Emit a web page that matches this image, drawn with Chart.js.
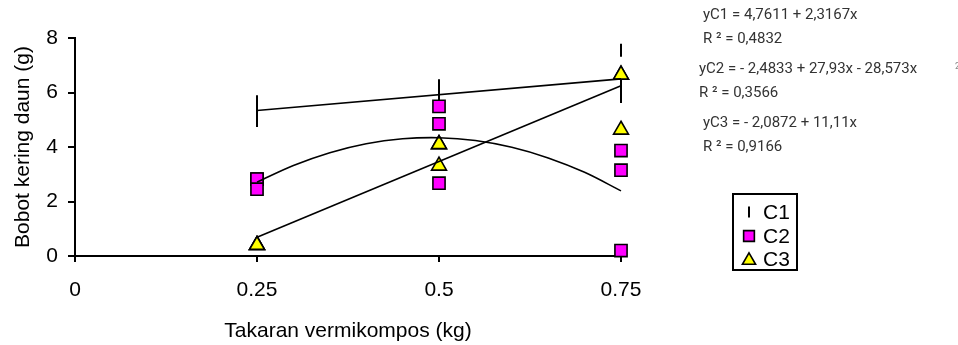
<!DOCTYPE html>
<html><head><meta charset="utf-8">
<script src="https://cdn.jsdelivr.net/npm/chart.js@4/dist/chart.umd.min.js"></script>
<style>html,body{margin:0;padding:0;background:#fff;overflow:hidden}canvas{display:block}</style>
</head><body>
<canvas id="c" width="958" height="345"></canvas>
<script>
// ---- data ----
const xTicks = [0, 0.25, 0.5, 0.75];
const yTicks = [0, 2, 4, 6, 8];
const seriesNames = ['C1', 'C2', 'C3'];
const doseX = [0.25, 0.25, 0.25, 0.5, 0.5, 0.5, 0.75, 0.75, 0.75];
const c1Values = [5.66, 5.31, 4.97, 6.25, 5.95, 5.70, 7.55, 6.25, 5.85];
const c2Values = [2.82, 2.82, 2.45, 5.49, 4.85, 2.67, 3.87, 3.15, 0.20];
const c3Values = [0.40, 0.40, 0.40, 4.10, 4.10, 3.31, 6.65, 6.65, 4.63];
const trendC1X = [0.25, 0.75];
const trendC1Y = [5.34, 6.50];
const trendC2X = [0.25, 0.30, 0.35, 0.40, 0.45, 0.50, 0.55, 0.60, 0.65, 0.70, 0.75];
const trendC2Y = [2.71, 3.32, 3.79, 4.12, 4.30, 4.34, 4.24, 3.99, 3.60, 3.07, 2.39];
const trendC3X = [0.25, 0.75];
const trendC3Y = [0.69, 6.25];
const equationLines = [
  'yC1 = 4,7611 + 2,3167x', 'R \u00B2 = 0,4832',
  'yC2 = - 2,4833 + 27,93x - 28,573x', 'R \u00B2 = 0,3566',
  'yC3 = - 2,0872 + 11,11x', 'R \u00B2 = 0,9166'
];
const xTitle = 'Takaran vermikompos (kg)';
const yTitle = 'Bobot kering daun (g)';

// ---- build ----
const pts = (xs, ys) => xs.map((x, i) => ({x: x, y: ys[i]}));
const FONT = "'Liberation Sans', Arial, sans-serif";

const markerStyles = [
  {pointStyle: 'line', rotation: 90, radius: 6.5, bg: '#000000', border: '#000000', bw: 2},
  {pointStyle: 'rect', rotation: 0, radius: 8.6, bg: '#FF00FF', border: '#000000', bw: 1.6},
  {pointStyle: 'triangle', rotation: 0, radius: 8.6, bg: '#FFFF00', border: '#000000', bw: 1.6}
];
const seriesValues = [c1Values, c2Values, c3Values];

const datasets = [];
seriesNames.forEach((name, i) => {
  const m = markerStyles[i];
  datasets.push({
    label: name, data: pts(doseX, seriesValues[i]), showLine: false, clip: false,
    pointStyle: m.pointStyle, rotation: m.rotation, pointRadius: m.radius,
    backgroundColor: m.bg, borderColor: m.border, borderWidth: m.bw,
    pointBackgroundColor: m.bg, pointBorderColor: m.border, pointBorderWidth: m.bw,
    order: 3 - i, isMarker: true
  });
});
[[trendC1X, trendC1Y], [trendC2X, trendC2Y], [trendC3X, trendC3Y]].forEach((t, i) => {
  datasets.push({
    label: 'trend ' + seriesNames[i], data: pts(t[0], t[1]), showLine: true, clip: false,
    pointRadius: 0, borderColor: '#000', borderWidth: 1.6, fill: false,
    tension: i === 1 ? 0.35 : 0, order: 0, isMarker: false
  });
});

const overlay = {
  id: 'overlay',
  afterDraw(chart) {
    const ctx = chart.ctx;
    ctx.save();
    // equations
    ctx.fillStyle = '#333';
    ctx.font = "15px Roboto, 'Open Sans', sans-serif";
    ctx.textBaseline = 'middle';
    ctx.textAlign = 'left';
    const eqPos = [[703, 15], [703, 39], [699, 69], [699, 93], [703, 123], [703, 147]];
    equationLines.forEach((t, i) => ctx.fillText(t, eqPos[i][0], eqPos[i][1]));
    ctx.font = "9px Roboto, sans-serif";
    ctx.fillStyle = '#888';
    ctx.fillText('2', 955, 67);
    // legend box
    ctx.strokeStyle = '#000';
    ctx.lineWidth = 2;
    ctx.strokeRect(733, 194, 64, 76);
    const rows = [212, 236, 259];
    chart.data.datasets.filter(d => d.isMarker).forEach((d, i) => {
      ctx.fillStyle = d.backgroundColor;
      ctx.strokeStyle = d.borderColor;
      ctx.lineWidth = d.borderWidth;
      const r = d.pointStyle === 'line' ? 5.5 : 7.6;
      Chart.helpers.drawPoint(ctx, {pointStyle: d.pointStyle, rotation: d.rotation, radius: r, borderWidth: d.borderWidth}, 749, rows[i] + (d.pointStyle === 'triangle' ? 1.5 : 0));
      ctx.fillStyle = '#000';
      ctx.font = '21px ' + FONT;
      ctx.textAlign = 'left';
      ctx.textBaseline = 'middle';
      ctx.fillText(d.label, 763, rows[i] + 1);
    });
    ctx.restore();
  }
};

new Chart(document.getElementById('c'), {
  type: 'scatter',
  data: {datasets: datasets},
  options: {
    responsive: false, animation: false, devicePixelRatio: 1,
    layout: {padding: {top: 38, right: 337, bottom: 0, left: 0}},
    plugins: {legend: {display: false}, tooltip: {enabled: false}},
    scales: {
      x: {
        type: 'linear', min: 0, max: 0.75,
        afterBuildTicks: s => { s.ticks = xTicks.map(v => ({value: v})); },
        afterFit: s => { s.height = 89; s.paddingLeft = 0; s.paddingRight = 0; },
        ticks: {font: {family: FONT, size: 21}, color: '#000', padding: 16, maxRotation: 0, autoSkip: false,
                callback: v => String(v)},
        grid: {drawOnChartArea: false, drawTicks: true, tickLength: 6, color: '#000', lineWidth: 2},
        border: {display: true, color: '#000', width: 2},
        title: {display: true, text: xTitle, color: '#000', font: {family: FONT, size: 21}, padding: {top: 0, bottom: 1}}
      },
      y: {
        type: 'linear', min: 0, max: 8,
        afterBuildTicks: s => { s.ticks = yTicks.map(v => ({value: v})); },
        afterFit: s => { s.width = 75; s.paddingTop = 0; s.paddingBottom = 0; },
        ticks: {font: {family: FONT, size: 21}, color: '#000', padding: 10},
        grid: {drawOnChartArea: false, drawTicks: true, tickLength: 7, color: '#000', lineWidth: 2},
        border: {display: true, color: '#000', width: 2},
        title: {display: true, text: yTitle, color: '#000', font: {family: FONT, size: 21}, padding: {top: 11, bottom: 0}}
      }
    }
  },
  plugins: [overlay]
});
</script>
</body></html>
